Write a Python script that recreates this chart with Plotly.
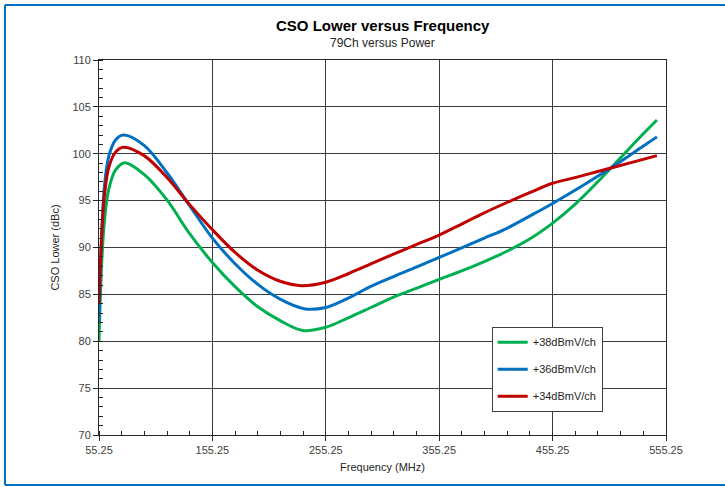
import plotly.graph_objects as go

# Frequency (MHz) and CSO Lower (dBc) for each per-channel power level
freq_38 = [55.25, 57.5, 60, 64, 70, 78, 95, 115, 135, 155.25, 175, 195, 215, 235, 255.25, 275, 295,
           315, 335, 355.25, 375, 395, 415, 435, 455.25, 475, 495, 515, 535, 547.25]
cso_38 = [80, 88, 92.8, 96.3, 98.3, 99.05, 97.8, 95.1, 91.5, 88.4, 85.85, 83.7, 82.2, 81.15, 81.5,
          82.5, 83.6, 84.7, 85.65, 86.6, 87.5, 88.5, 89.6, 90.9, 92.6, 94.6, 97.0, 99.55, 102.1, 103.6]

freq_36 = [55.25, 57.5, 60, 64, 70, 76.7, 95, 115, 135, 155.25, 175, 195, 215, 237, 255.25, 275, 295,
           315, 335, 355.25, 375, 395, 415, 435, 455.25, 475, 495, 515, 535, 547.25]
cso_36 = [82, 91, 96.5, 99.8, 101.5, 102.0, 100.9, 98.0, 94.5, 91.0, 88.3, 86.1, 84.5, 83.45, 83.6,
          84.6, 85.85, 86.9, 87.9, 88.95, 89.95, 91.0, 92.05, 93.35, 94.7, 96.1, 97.6, 99.15, 100.8, 101.8]

freq_34 = [55.25, 57.5, 60, 64, 70, 76.7, 95, 115, 135, 155.25, 175, 195, 215, 234, 255.25, 275, 295,
           315, 335, 355.25, 375, 395, 415, 435, 455.25, 475, 495, 515, 535, 547.25]
cso_34 = [84, 91, 95.5, 98.6, 100.2, 100.7, 99.8, 97.5, 94.6, 91.9, 89.5, 87.6, 86.4, 85.93, 86.3,
          87.2, 88.25, 89.3, 90.3, 91.33, 92.5, 93.7, 94.8, 95.85, 96.85, 97.45, 98.1, 98.75, 99.4, 99.8]

series = [
    ("+38dBmV/ch", freq_38, cso_38, "#00B050"),
    ("+36dBmV/ch", freq_36, cso_36, "#0070C0"),
    ("+34dBmV/ch", freq_34, cso_34, "#C00000"),
]

x_ticks = [55.25, 155.25, 255.25, 355.25, 455.25, 555.25]
x_tick_text = ["55.25", "155.25", "255.25", "355.25", "455.25", "555.25"]
y_ticks = [70, 75, 80, 85, 90, 95, 100, 105, 110]

FONT = "Liberation Sans, Arial, sans-serif"
GRID = "#3c3c3c"
TEXT = "#404040"

fig = go.Figure()
for i, (name, xs, ys, color) in enumerate(series):
    fig.add_trace(go.Scatter(
        x=xs, y=ys, name=name, mode="lines", legendgroup=f"g{i}",
        line=dict(color=color, width=3, shape="spline", smoothing=1.0),
    ))

fig.update_layout(
    width=725, height=487,
    margin=dict(l=99, r=59, t=60, b=52),
    paper_bgcolor="white", plot_bgcolor="white",
    font=dict(family=FONT, size=11, color=TEXT),
    showlegend=True,
    legend=dict(
        x=0.6926, y=0.2888, xanchor="left", yanchor="top",
        bgcolor="white", bordercolor="#404040", borderwidth=1,
        font=dict(family=FONT, size=11, color="#262626"),
        traceorder="grouped", tracegroupgap=8,
    ),
    xaxis=dict(
        range=[55.25, 555.25], tickmode="array", tickvals=x_ticks, ticktext=x_tick_text,
        showgrid=True, gridcolor=GRID, gridwidth=1,
        showline=True, linecolor="#262626", linewidth=1, mirror=True,
        ticks="outside", ticklen=5, tickcolor="#262626",
        minor=dict(tick0=55.25, dtick=20, ticks="inside", ticklen=4, tickcolor="#262626", showgrid=False),
        zeroline=False,
        title=dict(text="Frequency (MHz)", font=dict(family=FONT, size=11, color="#262626"), standoff=8),
        tickfont=dict(family=FONT, size=11, color=TEXT),
    ),
    yaxis=dict(
        range=[70, 110], tickmode="array", tickvals=y_ticks,
        showgrid=True, gridcolor=GRID, gridwidth=1,
        showline=True, linecolor="#262626", linewidth=1, mirror=True,
        ticks="outside", ticklen=5, tickcolor="#262626",
        minor=dict(tick0=70, dtick=1, ticks="inside", ticklen=4, tickcolor="#262626", showgrid=False),
        zeroline=False,
        title=dict(text="CSO Lower (dBc)", font=dict(family=FONT, size=11, color="#262626"), standoff=10),
        tickfont=dict(family=FONT, size=11, color=TEXT),
    ),
    annotations=[
        dict(text="<b>CSO Lower versus Frequency</b>", xref="paper", yref="paper",
             x=0.5, y=1.0933, xanchor="center", yanchor="middle", showarrow=False,
             font=dict(family=FONT, size=15, color="black")),
        dict(text="79Ch versus Power", xref="paper", yref="paper",
             x=0.5, y=1.0453, xanchor="center", yanchor="middle", showarrow=False,
             font=dict(family=FONT, size=12, color="#262626")),
    ],
    shapes=[
        # blue frame around the chart area (top, left, bottom)
        dict(type="line", xref="paper", yref="paper", x0=-0.1658, x1=1.104, y0=1.1467, y1=1.1467,
             line=dict(color="#0070C0", width=2)),
        dict(type="line", xref="paper", yref="paper", x0=-0.1658, x1=-0.1658, y0=1.1467, y1=-0.1333,
             line=dict(color="#0070C0", width=2)),
        dict(type="line", xref="paper", yref="paper", x0=-0.1658, x1=1.104, y0=-0.1333, y1=-0.1333,
             line=dict(color="#0070C0", width=2)),
    ],
)

fig.write_html("out.html")
